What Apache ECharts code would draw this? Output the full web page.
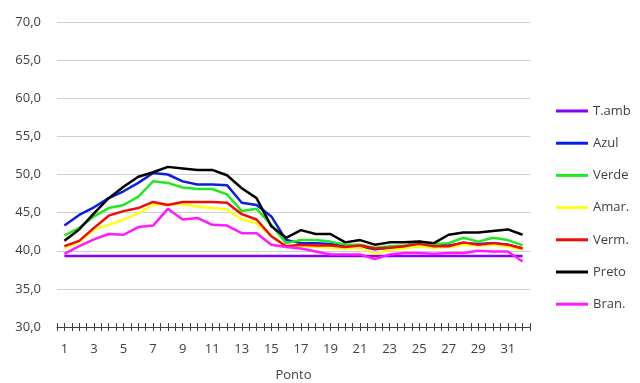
<!DOCTYPE html>
<html>
<head>
<meta charset="utf-8">
<script src="https://cdn.jsdelivr.net/npm/echarts@6/dist/echarts.min.js"></script>
<style>
  html, body { margin: 0; padding: 0; background: #fff; }
  #chart { width: 640px; height: 383px; }
</style>
</head>
<body>
<div id="chart"></div>
<script>
// Measurement points along the profile
const pontos = [1,2,3,4,5,6,7,8,9,10,11,12,13,14,15,16,17,18,19,20,21,22,23,24,25,26,27,28,29,30,31,32];

// Temperature readings (°C) per colour
const tAmb  = [39.3,39.3,39.3,39.3,39.3,39.3,39.3,39.3,39.3,39.3,39.3,39.3,39.3,39.3,39.3,39.3,39.3,39.3,39.3,39.3,39.3,39.3,39.3,39.3,39.3,39.3,39.3,39.3,39.3,39.3,39.3,39.3];
const azul  = [43.3,44.7,45.7,46.9,47.8,48.9,50.2,50.0,49.1,48.7,48.7,48.6,46.3,46.0,44.5,41.4,41.0,41.0,40.9,40.6,40.6,40.2,40.4,40.6,41.2,40.8,40.7,41.0,40.9,41.0,40.8,40.3];
const verde = [42.0,43.0,44.5,45.6,46.0,47.1,49.1,48.9,48.3,48.1,48.1,47.4,45.2,45.5,43.4,41.0,41.4,41.4,41.2,40.8,40.8,40.4,40.6,40.7,41.0,40.9,41.0,41.7,41.2,41.7,41.4,40.7];
const amar  = [40.4,41.1,42.8,43.4,44.1,44.9,46.0,46.1,46.1,45.8,45.6,45.4,44.1,43.6,41.9,40.6,40.6,40.5,40.4,40.3,40.4,39.6,40.1,40.3,40.6,40.4,40.5,40.8,40.7,40.8,40.6,40.1];
const verm  = [40.6,41.3,43.0,44.6,45.2,45.6,46.4,46.0,46.4,46.4,46.4,46.3,44.8,44.1,41.9,40.6,40.8,40.7,40.7,40.5,40.7,40.3,40.4,40.6,40.9,40.6,40.6,41.1,40.8,41.0,40.8,40.3];
const preto = [41.3,42.8,44.9,46.9,48.4,49.7,50.3,51.0,50.8,50.6,50.6,49.9,48.2,46.9,43.2,41.7,42.7,42.2,42.2,41.1,41.4,40.8,41.1,41.1,41.2,41.0,42.1,42.4,42.4,42.6,42.8,42.1];
const bran  = [39.6,40.6,41.5,42.2,42.1,43.1,43.3,45.5,44.1,44.3,43.4,43.3,42.3,42.3,40.8,40.5,40.3,39.9,39.5,39.5,39.5,38.9,39.5,39.7,39.7,39.6,39.7,39.7,40.0,39.9,39.9,38.6];

const seriesNames  = ['T.amb', 'Azul', 'Verde', 'Amar.', 'Verm.', 'Preto', 'Bran.'];
const seriesData   = [tAmb, azul, verde, amar, verm, preto, bran];
const seriesColors = ['#8a00f0', '#0a1ee6', '#22e822', '#ffff1a', '#f00a0a', '#000000', '#ff1aff'];

const textColor = '#404040';
const fontFamily = '"Open Sans", "Noto Sans", sans-serif';

const chart = echarts.init(document.getElementById('chart'), null, { renderer: 'canvas' });

// Small tick-only axes that put a crossing tick at every half step of the category axis
const tickAxis = (inside) => ({
  type: 'value',
  min: 0.5,
  max: pontos.length + 0.5,
  interval: 0.5,
  position: 'bottom',
  axisLine: { show: false },
  axisLabel: { show: false },
  splitLine: { show: false },
  axisTick: { show: true, inside: inside, length: 4, lineStyle: { color: '#404040', width: 1 } }
});

chart.setOption({
  animation: false,
  backgroundColor: '#ffffff',
  grid: { left: 57, right: 110, top: 22, bottom: 56, outerBoundsMode: 'none', containLabel: false },
  legend: {
    orient: 'vertical',
    left: 551,
    top: 98,
    icon: 'rect',
    itemWidth: 32,
    itemHeight: 3,
    itemGap: 16.2,
    textStyle: { color: textColor, fontSize: 13, fontFamily: fontFamily, lineHeight: 16 },
    data: seriesNames
  },
  xAxis: [
    {
      type: 'category',
      data: pontos,
      boundaryGap: true,
      name: 'Ponto',
      nameLocation: 'middle',
      nameGap: 42,
      nameTextStyle: { color: textColor, fontSize: 13, fontFamily: fontFamily },
      axisLine: { show: true, lineStyle: { color: '#404040', width: 1 } },
      axisTick: { show: false },
      axisLabel: { interval: 1, color: textColor, fontSize: 13, fontFamily: fontFamily, margin: 16 },
      splitLine: { show: false }
    },
    tickAxis(false),
    tickAxis(true)
  ],
  yAxis: {
    type: 'value',
    min: 30,
    max: 70,
    interval: 5,
    axisLine: { show: false },
    axisTick: { show: false },
    axisLabel: {
      color: textColor,
      fontSize: 13,
      fontFamily: fontFamily,
      margin: 16,
      formatter: (v) => v.toFixed(1).replace('.', ',')
    },
    splitLine: { lineStyle: { color: '#cfcfcf', width: 1 } }
  },
  series: seriesNames.map((name, i) => ({
    name: name,
    type: 'line',
    xAxisIndex: 0,
    data: seriesData[i],
    symbol: 'none',
    color: seriesColors[i],
    lineStyle: { color: seriesColors[i], width: 2.5 },
    z: i === 0 ? 1 : 2
  }))
});
</script>
</body>
</html>
